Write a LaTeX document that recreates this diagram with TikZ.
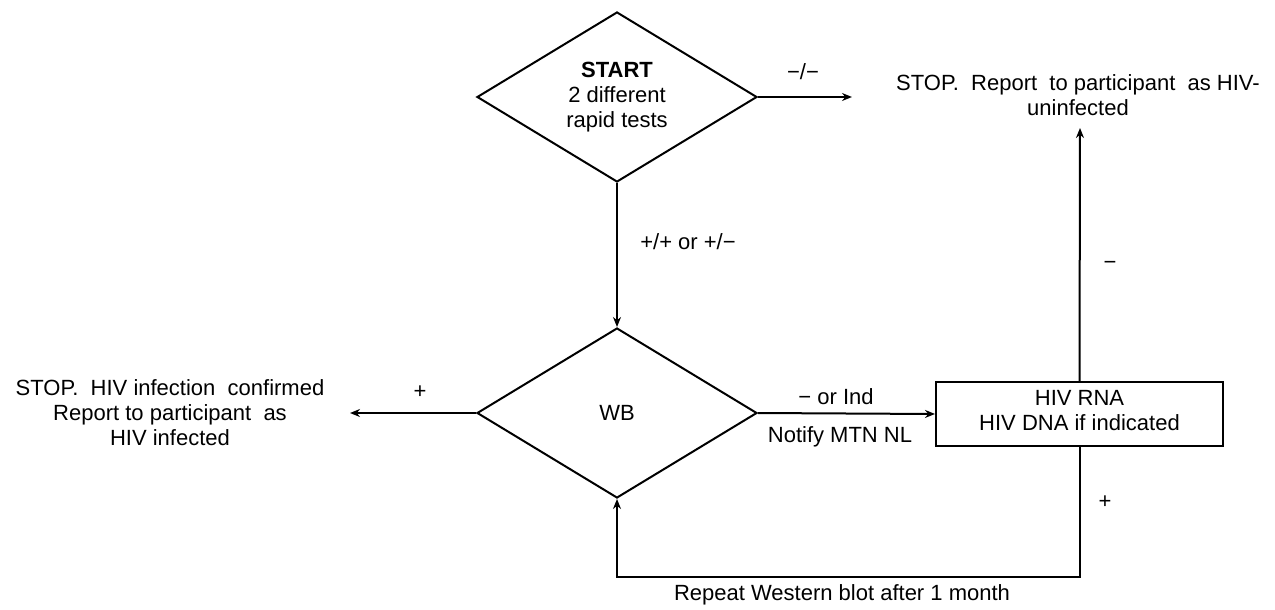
\documentclass[tikz,border=0pt]{standalone}
\usepackage{fontspec}
\setmainfont{Liberation Sans}
\usetikzlibrary{arrows.meta,shapes.geometric}
\begin{document}
\begin{tikzpicture}[x=1pt,y=-1pt,
  every node/.style={font=\fontsize{22}{25}\selectfont, inner sep=0pt, align=center},
  dia/.style={draw, shape=diamond, line width=2pt, minimum width=280pt, minimum height=170pt, aspect=1.647},
  testbox/.style={draw, rectangle, line width=2pt, minimum width=287pt, minimum height=64pt},
  conn/.style={line width=2pt},
  arr/.style={conn, -{Stealth[length=10pt,width=8pt]}},
  lbl/.style={}
]
\useasboundingbox (0,0) rectangle (1275,610);
% nodes
\node[dia] (start) at (617,97) {\textbf{START}\\2 different\\rapid tests};
\node[dia] (wb) at (617,413) {WB};
\node[testbox] (box) at (1079.5,414) {};
\node (boxtext) at (1079.5,411) {HIV RNA\\HIV DNA if indicated};
\node (neg) at (1078,95) {STOP.\ \ Report\ \ to participant\ \ as HIV-\\uninfected};
\node (pos) at (170,413) {STOP.\ \ HIV infection\ \ confirmed\\Report to participant\ \ as\\HIV infected};
\coordinate (negend) at (852,97);
\coordinate (upend) at (1080,128);
\coordinate (posend) at (350,413);
\coordinate (loop) at (617,577);
% connectors
\draw[arr] (start.east) -- (negend);
\draw[arr] (start.south) -- (wb.north);
\draw[arr] (wb.east) -- (box.west);
\draw[arr] (wb.west) -- (posend);
\draw[arr] (box.north) -- (upend);
\draw[arr] (box.south) |- (loop) -- (wb.south);
% labels
\node[lbl] (l1) at (803,72) {−/−};
\node[lbl] (l2) at (688,242) {+/+ or +/−};
\node[lbl] (l3) at (836,397) {− or Ind};
\node[lbl] (l4) at (840,437) {Notify MTN NL};
\node[lbl] (l5) at (1110,265) {−};
\node[lbl] (l6) at (1105,502) {+};
\node[lbl] (l7) at (420,392) {+};
\node[lbl] (l8) at (842,595) {Repeat Western blot after 1 month};
\end{tikzpicture}
\end{document}
